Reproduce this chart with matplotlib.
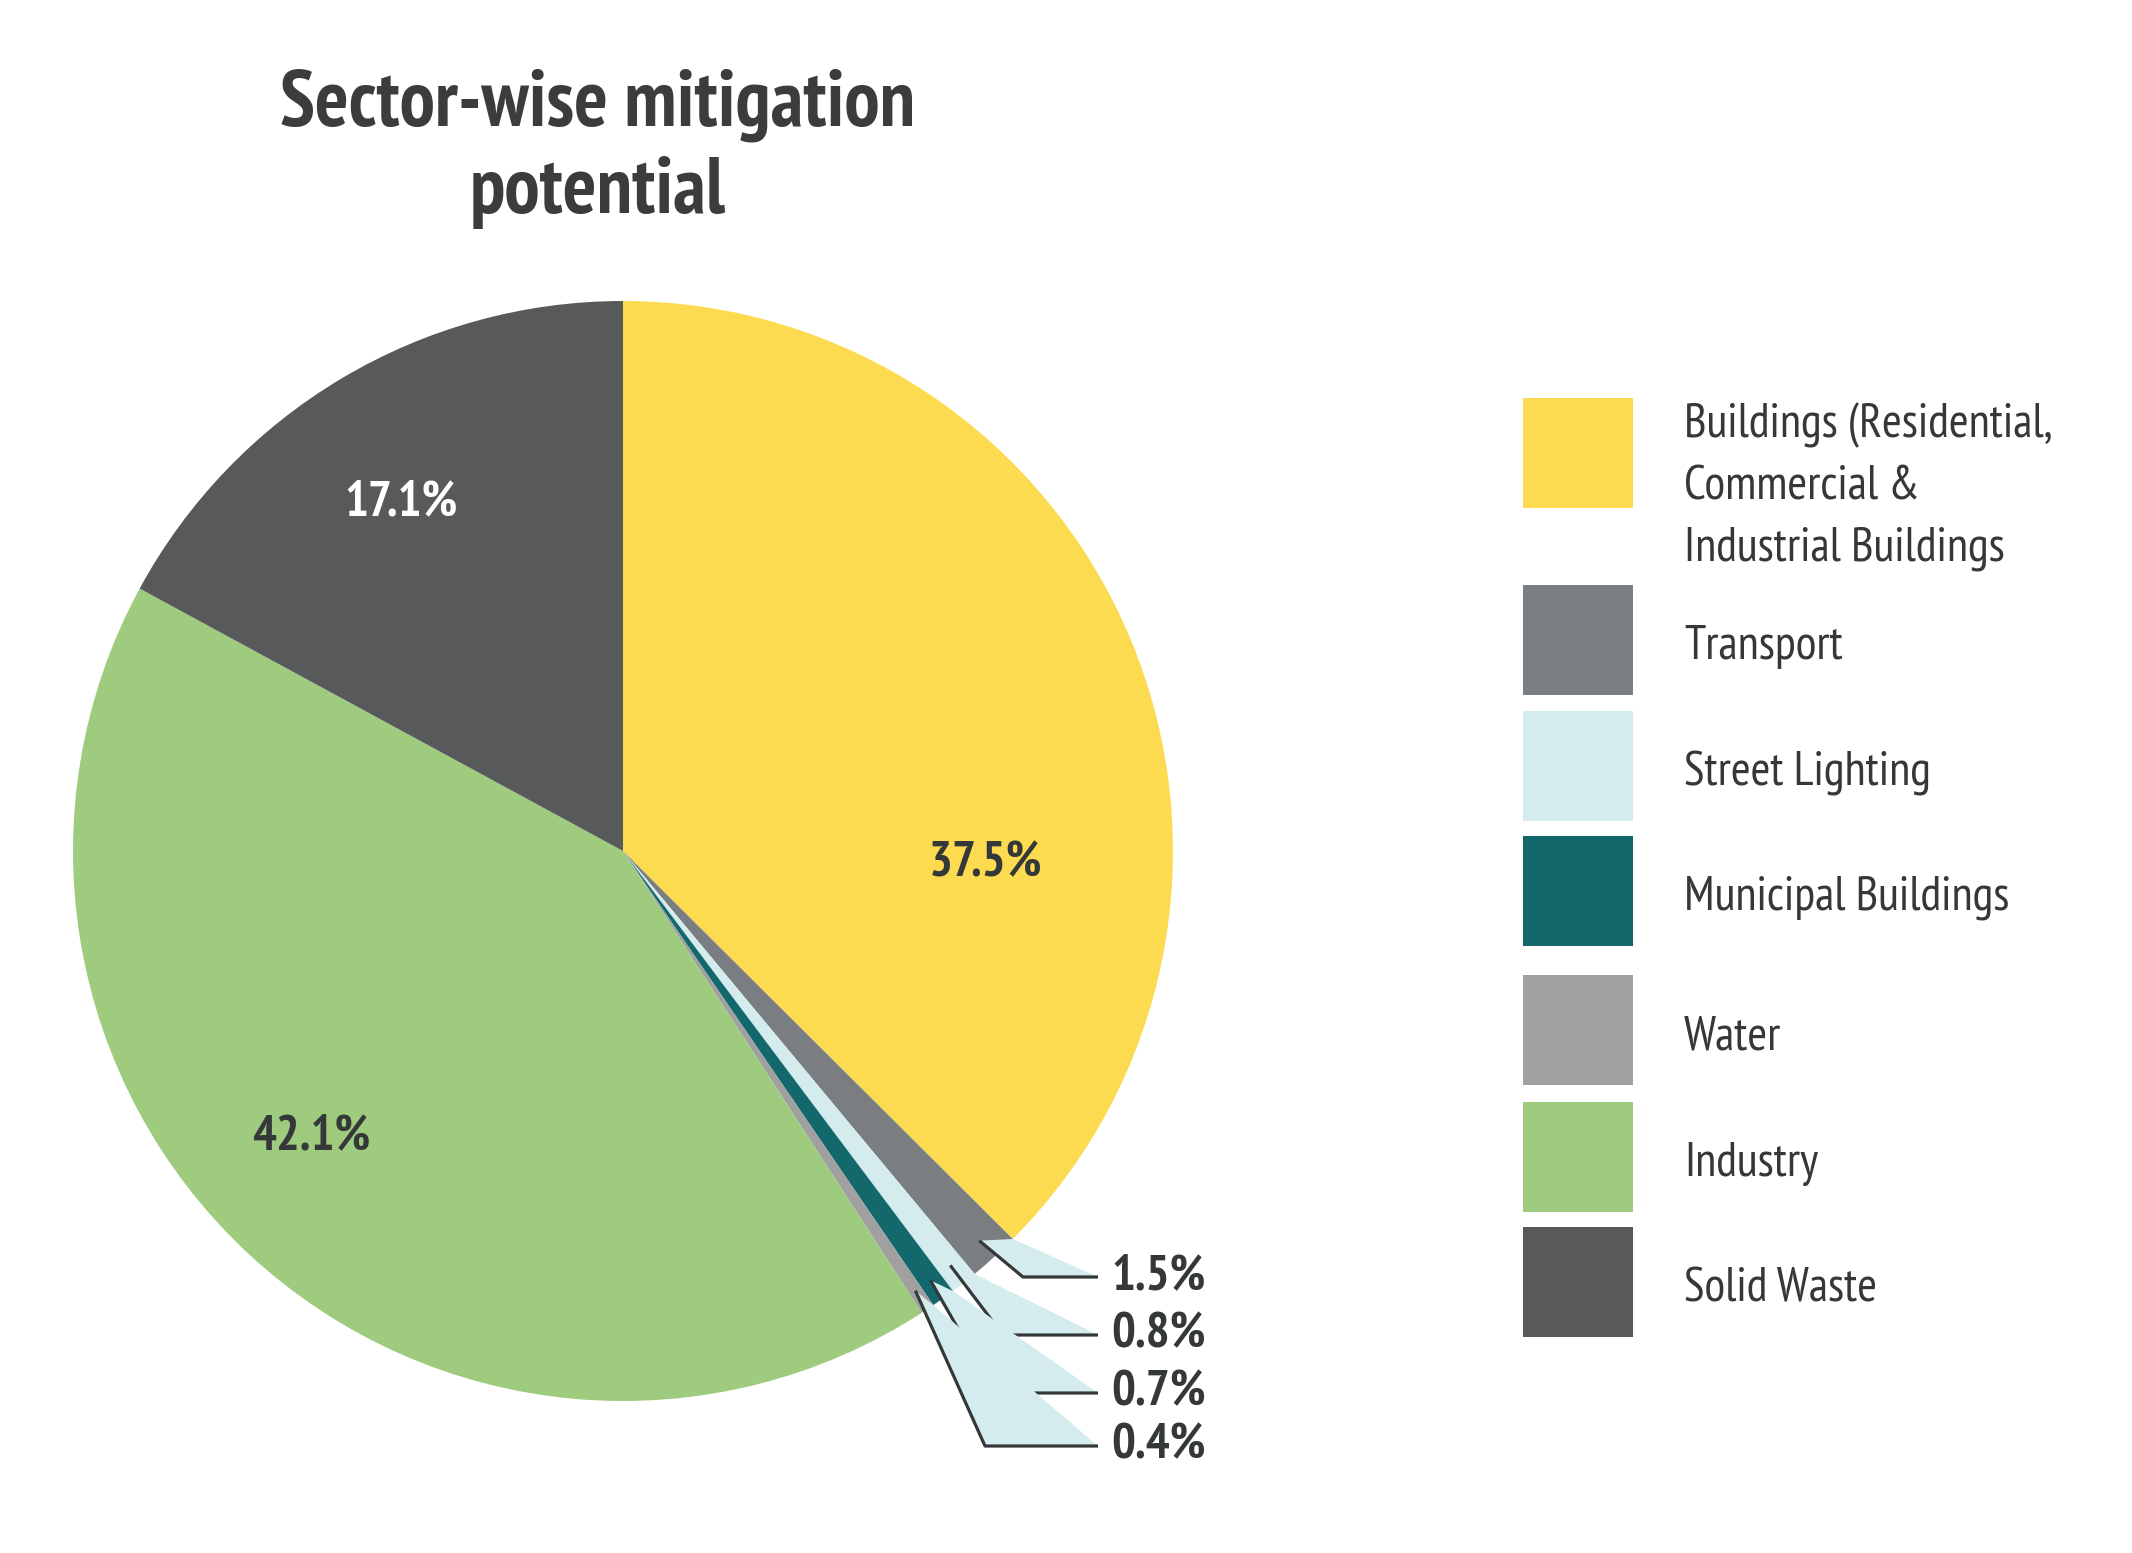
import numpy as np
import matplotlib
matplotlib.use("Agg")
import matplotlib.pyplot as plt
from matplotlib.patches import Rectangle, Polygon

plt.rcParams['font.family'] = ['PT Sans Narrow', 'Liberation Sans']

# sectors, clockwise from 12 o'clock
sectors = ["Buildings (Residential,\nCommercial &\nIndustrial Buildings",
           "Transport", "Street Lighting", "Municipal Buildings",
           "Water", "Industry", "Solid Waste"]
shares = [37.5, 1.5, 0.8, 0.7, 0.4, 42.1, 17.1]
colors = ["#FCDB50", "#7B7E81", "#D4ECEE", "#12686B",
          "#A0A0A0", "#9FCB7F", "#58595B"]

W, H = 2132, 1553
TXT = "#353838"

fig = plt.figure(figsize=(W / 100, H / 100), dpi=100)
ax = fig.add_axes([0, 0, 1, 1])

def fy(y):
    # pixel rows counted from the top
    return H - y

cx, cy, R = 623, fy(851), 550
wedges, _ = ax.pie(shares, colors=colors, startangle=90, counterclock=False,
                   center=(cx, cy), radius=R, frame=True,
                   wedgeprops=dict(linewidth=0))
ax.set_xlim(0, W)
ax.set_ylim(0, H)
ax.set_aspect("equal")
ax.axis("off")

def polar(r, deg):
    a = np.deg2rad(deg)
    return cx + r * np.cos(a), cy + r * np.sin(a)

# inside labels for the three big slices: (index, angle, radius fraction, colour)
inside = [(0, -2, 0.66, TXT), (5, 222.5, 0.77, TXT), (6, 122.5, 0.75, "white")]
for i, ang, rf, c in inside:
    x, y = polar(rf * R, ang)
    ax.text(x, y, f"{shares[i]}%", ha="center", va="center", fontsize=36,
            fontweight="bold", color=c)

# callouts for the thin slices
small = [1, 2, 3, 4]
label_rows = [1277, 1335, 1393, 1446]
elbow_x = [1023, 1003, 995, 985]
end_x = 1098
for k, (i, row, ex) in enumerate(zip(small, label_rows, elbow_x)):
    w = wedges[i]
    mid = 0.5 * (w.theta1 + w.theta2)
    start = polar(0.96 * R, mid)
    edge = polar(R, w.theta2)
    elbow = (ex, fy(row))
    end = (end_x, fy(row))
    ax.add_patch(Polygon([start, edge, end, elbow], closed=True,
                         facecolor=colors[2], edgecolor="none", zorder=3 + 2 * k))
    ax.plot([start[0], elbow[0], end[0]], [start[1], elbow[1], end[1]],
            color=TXT, lw=2.3, solid_capstyle="butt", zorder=4 + 2 * k)
    ax.text(end_x + 13, fy(row), f"{shares[i]}%", ha="left", va="center",
            fontsize=36, fontweight="bold", color=TXT, zorder=20)

# title
ax.text(598, fy(125), "Sector-wise mitigation", ha="center", va="baseline",
        fontsize=57, fontweight="bold", color="#3C3C3C")
ax.text(598, fy(213), "potential", ha="center", va="baseline",
        fontsize=57, fontweight="bold", color="#3C3C3C")

# legend
box_tops = [398, 585, 711, 836, 975, 1102, 1227]
box = 110
for name, c, top in zip(sectors, colors, box_tops):
    ax.add_patch(Rectangle((1523, fy(top + box)), box, box, facecolor=c,
                           edgecolor="none"))
    if "\n" in name:
        ax.text(1684, fy(top + 4), name, ha="left", va="top", fontsize=34.5,
                color=TXT, linespacing=1.52)
    else:
        ax.text(1684, fy(top + box / 2 + 7), name, ha="left", va="center",
                fontsize=34.5, color=TXT)

fig.savefig("out.png", dpi=100)
